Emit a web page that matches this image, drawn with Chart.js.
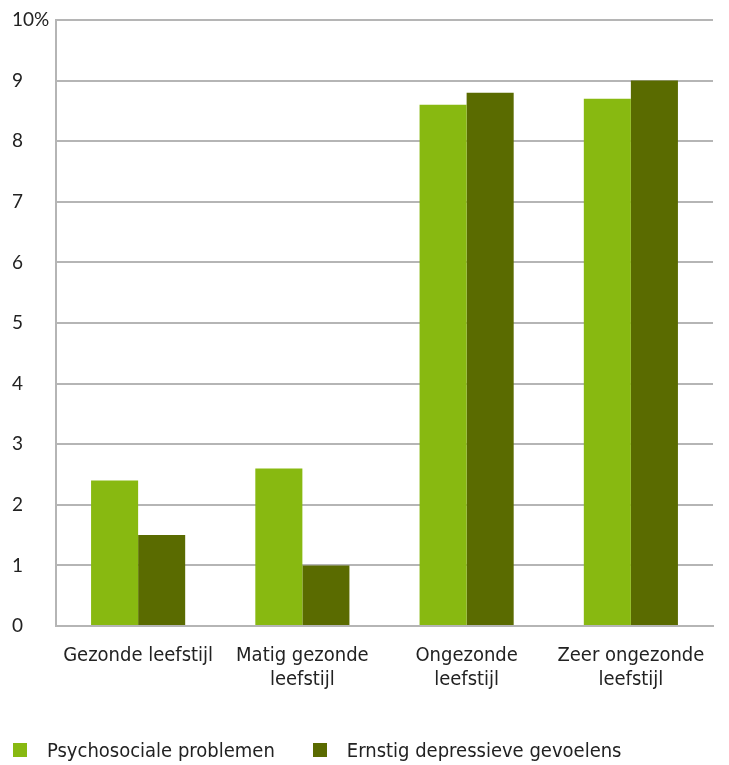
<!DOCTYPE html>
<html>
<head>
<meta charset="utf-8">
<script src="https://cdn.jsdelivr.net/npm/chart.js@4"></script>
<style>
  body { margin: 0; background: #fff; }
  #wrap { position: relative; width: 729px; height: 765px; }
  #legend { position: absolute; left: 13px; top: 738px; font: 20px "DejaVu Sans Condensed", "Liberation Sans Narrow", sans-serif; color: #222; display: flex; }
  #legend span.box { display: inline-block; width: 14px; height: 14px; margin-right: 20px; vertical-align: 0px; }
  #legend div { margin-right: 38px; }
</style>
</head>
<body>
<div id="wrap">
  <canvas id="chart" width="729" height="765"></canvas>
  <div id="legend"></div>
</div>
<script>
const categories = [
  "Gezonde leefstijl",
  ["Matig gezonde", "leefstijl"],
  ["Ongezonde", "leefstijl"],
  ["Zeer ongezonde", "leefstijl"],
];
const seriesNames = ["Psychosociale problemen", "Ernstig depressieve gevoelens"];
const psychosociaal = [2.4, 2.6, 8.6, 8.7];
const depressief = [1.5, 1.0, 8.8, 9.0];
const colors = ["#88b911", "#5a6b00"];

const gridColor = "#b5b5b5";
const labelFont = { family: "'DejaVu Sans Condensed', 'Liberation Sans Narrow', sans-serif", size: 20, lineHeight: 1.2 };

new Chart(document.getElementById("chart"), {
  type: "bar",
  data: {
    labels: categories,
    datasets: [
      { label: seriesNames[0], data: psychosociaal, backgroundColor: colors[0] },
      { label: seriesNames[1], data: depressief, backgroundColor: colors[1] },
    ],
  },
  options: {
    responsive: false,
    animation: false,
    layout: { padding: { top: 20, right: 16, left: 12, bottom: 0 } },
    datasets: { bar: { categoryPercentage: 0.573, barPercentage: 1.0 } },
    plugins: { legend: { display: false }, tooltip: { enabled: false } },
    scales: {
      x: {
        grid: { display: false, drawTicks: false },
        border: { display: true, color: gridColor, width: 2 },
        ticks: { color: "#222", font: labelFont, padding: 18, maxRotation: 0 },
        afterFit: (s) => { s.height = 139; },
      },
      y: {
        min: 0,
        max: 10,
        grid: { color: gridColor, lineWidth: 2, drawTicks: false },
        border: { display: true, color: gridColor, width: 2 },
        ticks: {
          stepSize: 1,
          color: "#222",
          crossAlign: "far",
          padding: 6,
          font: { family: "Lato, 'Open Sans', sans-serif", size: 19 },
          callback: (v) => (v === 10 ? "10%" : v),
        },
        afterFit: (s) => { s.width = 44; },
      },
    },
  },
});

// legend as html so the spacing matches the original
const legend = document.getElementById("legend");
seriesNames.forEach((name, i) => {
  const item = document.createElement("div");
  item.innerHTML = `<span class="box" style="background:${colors[i]}"></span>${name}`;
  legend.appendChild(item);
});
</script>
</body>
</html>
